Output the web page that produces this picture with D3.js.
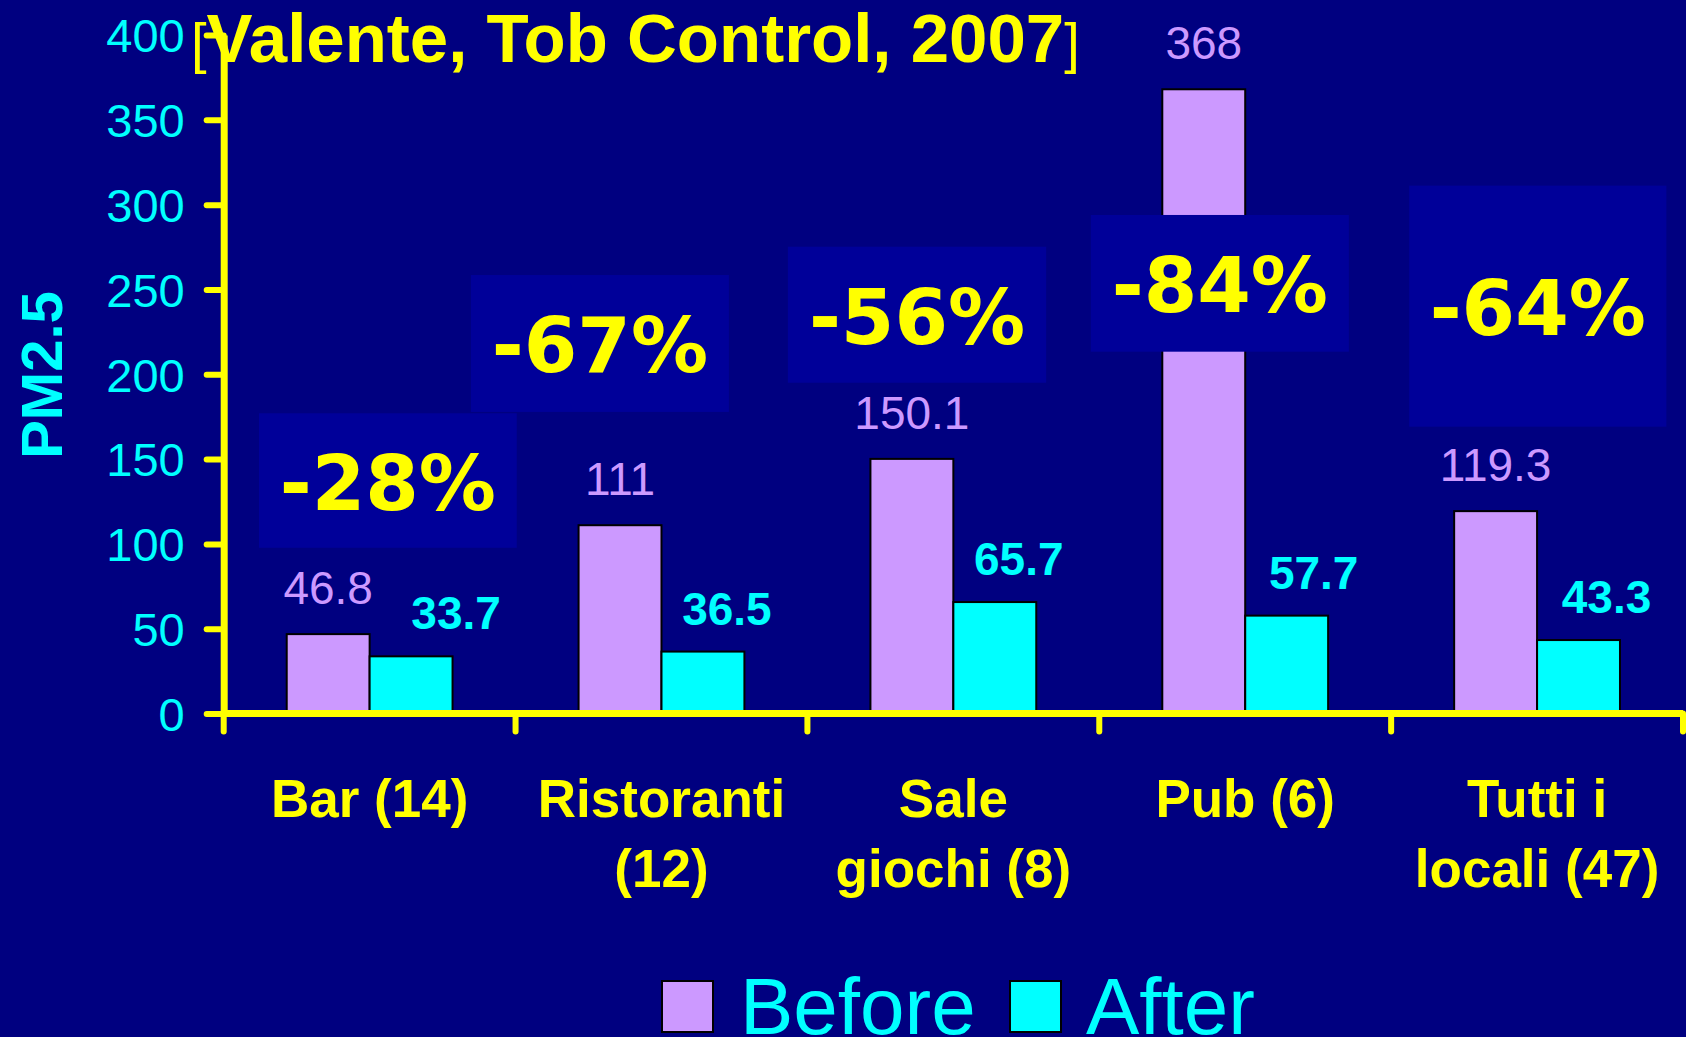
<!DOCTYPE html>
<html>
<head>
<meta charset="utf-8">
<script src="https://cdn.jsdelivr.net/npm/d3@7.9.0/dist/d3.min.js"></script>
<style>
  html, body { margin: 0; padding: 0; background: #000080; }
  svg { display: block; }
</style>
</head>
<body>
<div id="chart"></div>
<script>
// ---- data ----
const catLines = [['Bar (14)'], ['Ristoranti', '(12)'], ['Sale', 'giochi (8)'], ['Pub (6)'], ['Tutti i', 'locali (47)']];
const categories = catLines.map((l) => l.join(' '));
const series = ['Before', 'After'];
const before = [46.8, 111, 150.1, 368, 119.3];
const after = [33.7, 36.5, 65.7, 57.7, 43.3];
const changes = ['-28%', '-67%', '-56%', '-84%', '-64%'];
const yTicks = [0, 50, 100, 150, 200, 250, 300, 350, 400];

// layout of the annotation boxes: [x0, x1] as fraction of band, [top, bottom] in PM2.5 units
const boxSpans = [
  [0.121, 1.004, 177, 97.7],
  [-0.153, 0.731, 258.5, 177.8],
  [-0.067, 0.818, 275.2, 195],
  [-0.029, 0.855, 293.9, 213.3],
  [0.062, 0.943, 311.2, 169.1],
];
const afterLabelShift = [45, 24, 24, 27, 28];

const width = 1686;
const height = 1037;
const font = "'Liberation Sans', Arial, sans-serif";
const yellow = '#ffff00';
const cyan = '#00ffff';
const lilac = '#cc99ff';

const rows = categories.map((c, i) => ({ cat: c, i, Before: before[i], After: after[i] }));

const svg = d3.select('#chart').append('svg')
  .attr('width', width)
  .attr('height', height)
  .style('font-family', font);

svg.append('rect').attr('width', width).attr('height', height).attr('fill', '#000080');

// ----- scales -----
const x = d3.scaleBand().domain(categories).range([223.7, 1683]).padding(0);
const x1 = d3.scaleBand().domain(series).range([0, x.bandwidth()]).paddingInner(0).paddingOuter(0.76);
const y = d3.scaleLinear().domain([0, 400]).range([713.5, 35]);
const color = d3.scaleOrdinal().domain(series).range([lilac, cyan]);

// ----- bars -----
const groups = svg.append('g').selectAll('g')
  .data(rows)
  .join('g')
  .attr('transform', (d) => `translate(${x(d.cat)},0)`);

groups.selectAll('rect')
  .data((d) => series.map((s) => ({ key: s, value: d[s] })))
  .join('rect')
  .attr('x', (d) => x1(d.key))
  .attr('y', (d) => y(d.value))
  .attr('width', x1.bandwidth())
  .attr('height', (d) => y(0) - y(d.value))
  .attr('fill', (d) => color(d.key))
  .attr('stroke', '#000')
  .attr('stroke-width', 2);

// ----- annotation boxes -----
const bw = x.bandwidth();
svg.append('g').selectAll('rect')
  .data(rows)
  .join('rect')
  .attr('x', (d) => x(d.cat) + boxSpans[d.i][0] * bw)
  .attr('y', (d) => y(boxSpans[d.i][2]))
  .attr('width', (d) => (boxSpans[d.i][1] - boxSpans[d.i][0]) * bw)
  .attr('height', (d) => y(boxSpans[d.i][3]) - y(boxSpans[d.i][2]))
  .attr('fill', '#000099');

svg.append('g').selectAll('text')
  .data(rows)
  .join('text')
  .attr('x', (d) => x(d.cat) + (boxSpans[d.i][0] + boxSpans[d.i][1]) / 2 * bw)
  .attr('y', (d) => (y(boxSpans[d.i][2]) + y(boxSpans[d.i][3])) / 2 + 29)
  .attr('text-anchor', 'middle')
  .attr('font-family', "'DejaVu Sans', Verdana, sans-serif")
  .attr('font-weight', 'bold')
  .attr('font-size', 77)
  .attr('fill', yellow)
  .text((d) => changes[d.i]);

// ----- value labels -----
svg.append('g').selectAll('text')
  .data(rows)
  .join('text')
  .attr('x', (d) => x(d.cat) + x1('Before') + x1.bandwidth() / 2)
  .attr('y', (d) => y(d.Before) - 30)
  .attr('text-anchor', 'middle')
  .attr('font-size', 46)
  .attr('fill', lilac)
  .text((d) => String(d.Before));

svg.append('g').selectAll('text')
  .data(rows)
  .join('text')
  .attr('x', (d) => x(d.cat) + x1('After') + x1.bandwidth() / 2 + afterLabelShift[d.i])
  .attr('y', (d) => y(d.After) - 27)
  .attr('text-anchor', 'middle')
  .attr('font-size', 46)
  .attr('font-weight', 'bold')
  .attr('fill', cyan)
  .text((d) => String(d.After));

// ----- axes -----
const yAxis = svg.append('g')
  .attr('transform', `translate(${x.range()[0]},0)`)
  .call(d3.axisLeft(y).tickValues(yTicks).tickSize(17).tickPadding(22).tickSizeOuter(0));
yAxis.select('.domain').attr('stroke', yellow).attr('stroke-width', 7);
yAxis.selectAll('.tick line').attr('stroke', yellow).attr('stroke-width', 6).attr('stroke-linecap', 'round');
yAxis.selectAll('.tick text')
  .attr('fill', cyan)
  .attr('font-size', 47)
  .attr('font-family', font)
  .attr('dy', '0.36em');

const xAxis = svg.append('g')
  .attr('transform', `translate(0,${y(0)})`);
xAxis.append('line')
  .attr('x1', x.range()[0]).attr('x2', x.range()[1])
  .attr('stroke', yellow).attr('stroke-width', 7);
const boundaries = categories.map((c) => x(c)).concat([x.range()[1]]);
xAxis.selectAll('.xt')
  .data(boundaries)
  .join('line')
  .attr('class', 'xt')
  .attr('x1', (d) => d).attr('x2', (d) => d)
  .attr('y1', 0).attr('y2', 18)
  .attr('stroke', yellow).attr('stroke-width', 6).attr('stroke-linecap', 'round');

// category labels
const catText = svg.append('g').selectAll('text')
  .data(rows)
  .join('text')
  .attr('text-anchor', 'middle')
  .attr('font-size', 53)
  .attr('font-weight', 'bold')
  .attr('fill', yellow);
catText.selectAll('tspan')
  .data((d) => catLines[d.i].map((line, k) => ({ line, k, cx: x(d.cat) + bw / 2 })))
  .join('tspan')
  .attr('x', (d) => d.cx)
  .attr('y', (d) => 817 + d.k * 70)
  .text((d) => d.line);

// y axis label
svg.append('text')
  .attr('transform', 'translate(62,375) rotate(-90)')
  .attr('text-anchor', 'middle')
  .attr('font-size', 58)
  .attr('font-weight', 'bold')
  .attr('fill', cyan)
  .text('PM2.5');

// title
const title = svg.append('text')
  .attr('x', 191)
  .attr('y', 62)
  .attr('fill', yellow);
title.append('tspan').attr('font-size', 56).text('[');
title.append('tspan').attr('font-size', 69).attr('font-weight', 'bold').text('Valente, Tob Control, 2007');
title.append('tspan').attr('font-size', 56).text(']');

// ----- legend -----
const legendItems = [
  { key: 'Before', sx: 662, tx: 740 },
  { key: 'After', sx: 1010, tx: 1086 },
];
const legend = svg.append('g');
legend.selectAll('rect')
  .data(legendItems)
  .join('rect')
  .attr('x', (d) => d.sx)
  .attr('y', 981)
  .attr('width', 51)
  .attr('height', 51)
  .attr('fill', (d) => color(d.key))
  .attr('stroke', '#000')
  .attr('stroke-width', 2);
legend.selectAll('text')
  .data(legendItems)
  .join('text')
  .attr('x', (d) => d.tx)
  .attr('y', 1034)
  .attr('font-size', 80)
  .attr('fill', cyan)
  .text((d) => d.key);
</script>
</body>
</html>
